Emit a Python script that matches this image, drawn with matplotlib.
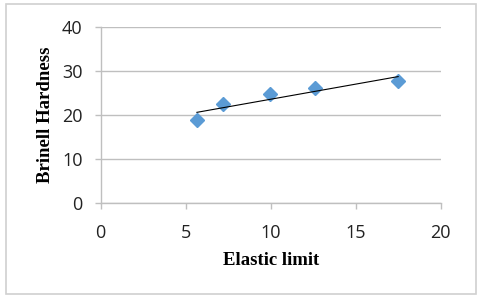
import numpy as np
import matplotlib
matplotlib.use("Agg")
import matplotlib.pyplot as plt
from matplotlib.patches import Rectangle

elastic_limit = [5.66, 7.21, 9.98, 12.6, 17.5]
brinell_hardness = [18.85, 22.4, 24.8, 26.1, 27.7]
x_ticks = [0, 5, 10, 15, 20]
y_ticks = [0, 10, 20, 30, 40]

fig = plt.figure(figsize=(4.8, 3.03), dpi=100)
ax = fig.add_axes([0.2098, 0.329, 0.918 - 0.2098, 0.912 - 0.329])

# outer chart border
fig.patches.append(Rectangle((6/480, 1 - 294/303), (475.5-6)/480, (294-3.5)/303,
                             transform=fig.transFigure, fill=False,
                             edgecolor="#d0d0d0", linewidth=1.2))

ax.set_xlim(0, 20)
ax.set_ylim(0, 40)
ax.set_xticks(x_ticks)
ax.set_yticks(y_ticks)
ax.grid(axis="y", color="#bfbfbf", linewidth=1.0)
ax.set_axisbelow(True)
for s in ["top", "right"]:
    ax.spines[s].set_visible(False)
for s in ["left", "bottom"]:
    ax.spines[s].set_color("#bfbfbf")
    ax.spines[s].set_linewidth(1.0)
ax.tick_params(axis="both", direction="out", color="#bfbfbf", width=1.0,
               length=4, labelsize=13, labelcolor="#222222")
ax.tick_params(axis="y", pad=9)
ax.tick_params(axis="x", pad=11)
for lab in ax.get_xticklabels() + ax.get_yticklabels():
    lab.set_fontfamily("Open Sans")

ax.plot(elastic_limit, brinell_hardness, linestyle="none", marker="D",
        markersize=7, color="#5b9bd5", markeredgecolor="#5b9bd5", zorder=3, clip_on=False)

coef = np.polyfit(elastic_limit, brinell_hardness, 1)
xs = np.array([min(elastic_limit), max(elastic_limit)])
ax.plot(xs, np.polyval(coef, xs), color="black", linewidth=0.8, zorder=4)

ax.set_xlabel("Elastic limit", fontfamily="Liberation Serif", fontweight="bold",
              fontsize=13.5, labelpad=7)
ax.set_ylabel("Brinell Hardness", fontfamily="Liberation Serif", fontweight="bold",
              fontsize=13.5, labelpad=6)

fig.savefig("out.png", dpi=100)
